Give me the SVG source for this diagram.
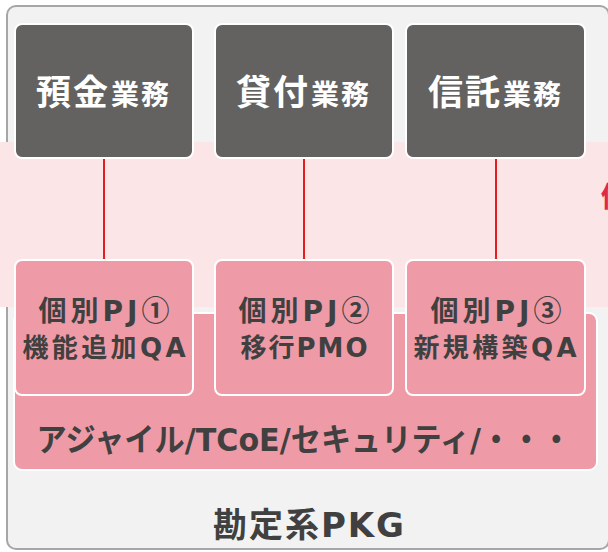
<svg xmlns="http://www.w3.org/2000/svg" width="608" height="552" viewBox="0 0 608 552">
<style>
.biz rect{fill:#646260;stroke:#fff;stroke-width:2}
.pj rect{fill:#ee9ba7;stroke:#fff;stroke-width:2}
.t{font-family:"DejaVu Sans","Noto Sans CJK JP",sans-serif;font-weight:bold}
.c{font-family:"Noto Sans CJK JP",sans-serif}
.w{fill:#fff}
.d{fill:#404040}
.conn line{stroke:#e02020;stroke-width:2}
</style>
<g id="container">
<rect x="7" y="6" width="602" height="543" rx="9" fill="#f2f2f2" stroke="#a6a6a6" stroke-width="2"/>
</g>
<g id="band">
<rect x="0" y="142" width="608" height="165" fill="#fbe5e7"/>
<text class="t" x="601" y="207" font-size="28" fill="#e0284a">個</text>
</g>
<g id="common">
<rect x="14" y="313" width="583" height="157" rx="8" fill="#ee9ba7" stroke="#fff" stroke-width="2"/>
<text class="t d" x="304" y="451" font-size="32" text-anchor="middle" textLength="535" lengthAdjust="spacingAndGlyphs">アジャイル/TCoE/セキュリティ/・・・</text>
</g>
<g id="pkg">
<text class="t d" x="308.5" y="537" font-size="34" text-anchor="middle" textLength="191" lengthAdjust="spacing">勘定系PKG</text>
</g>
<g class="conn" id="connectors">
<line x1="104" y1="158" x2="104" y2="261"/>
<line x1="304" y1="158" x2="304" y2="261"/>
<line x1="496" y1="158" x2="496" y2="261"/>
</g>
<g class="biz" id="yokin">
<rect x="15" y="24" width="178" height="134" rx="7"/>
<text class="t w" y="105"><tspan x="36" font-size="35" letter-spacing="2">預金</tspan><tspan x="111" font-size="28" letter-spacing="2">業務</tspan></text>
</g>
<g class="biz" id="kashitsuke">
<rect x="215" y="24" width="178" height="134" rx="7"/>
<text class="t w" y="105"><tspan x="236" font-size="35" letter-spacing="2">貸付</tspan><tspan x="311" font-size="28" letter-spacing="2">業務</tspan></text>
</g>
<g class="biz" id="shintaku">
<rect x="406" y="24" width="179" height="134" rx="7"/>
<text class="t w" y="105"><tspan x="428" font-size="35" letter-spacing="2">信託</tspan><tspan x="503" font-size="28" letter-spacing="2">業務</tspan></text>
</g>
<g class="pj" id="pj1">
<rect x="15" y="260" width="178" height="135" rx="7"/>
<text class="t d" x="104" y="321" font-size="28" text-anchor="middle" textLength="131" lengthAdjust="spacing">個別PJ<tspan class="c">①</tspan></text>
<text class="t d" x="104" y="357" font-size="26" text-anchor="middle" textLength="163" lengthAdjust="spacing">機能追加QA</text>
</g>
<g class="pj" id="pj2">
<rect x="215" y="260" width="178" height="135" rx="7"/>
<text class="t d" x="304" y="321" font-size="28" text-anchor="middle" textLength="131" lengthAdjust="spacing">個別PJ<tspan class="c">②</tspan></text>
<text class="t d" x="304" y="357" font-size="26" text-anchor="middle" textLength="127" lengthAdjust="spacing">移行PMO</text>
</g>
<g class="pj" id="pj3">
<rect x="406" y="260" width="179" height="135" rx="7"/>
<text class="t d" x="496" y="321" font-size="28" text-anchor="middle" textLength="131" lengthAdjust="spacing">個別PJ<tspan class="c">③</tspan></text>
<text class="t d" x="495" y="357" font-size="26" text-anchor="middle" textLength="163" lengthAdjust="spacing">新規構築QA</text>
</g>
</svg>
